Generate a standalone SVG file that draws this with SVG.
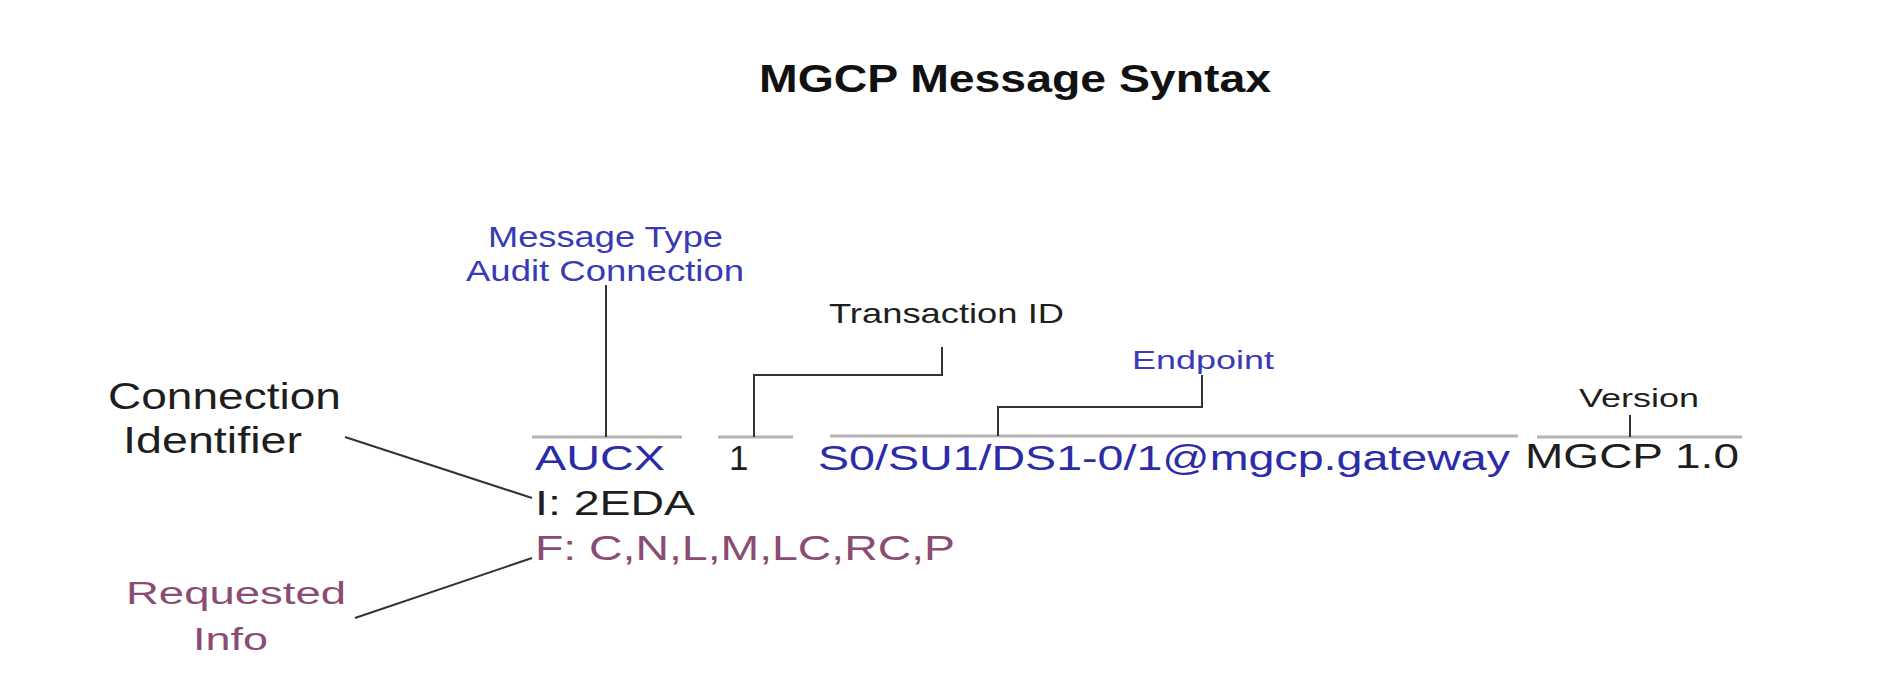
<svg xmlns="http://www.w3.org/2000/svg" width="1889" height="688" viewBox="0 0 1889 688">
<style>
text{font-family:"Liberation Sans",Arial,sans-serif}
.t{font-weight:bold;font-size:38px;fill:#111}
.blue{fill:#3a3ab4}
.dblue{fill:#2c2ca6}
.blk{fill:#1e1e1e}
.mauve{fill:#8a4c72}
.ul{stroke:#b4b4b4;stroke-width:3;fill:none}
.cn{stroke:#333;stroke-width:2;fill:none}
</style>
<rect width="1889" height="688" fill="#ffffff"/>
<g id="title"><text class="t" x="759" y="92" textLength="512" lengthAdjust="spacingAndGlyphs">MGCP Message Syntax</text></g>
<g id="message-type">
<text class="blue" x="488" y="247" font-size="29" textLength="235" lengthAdjust="spacingAndGlyphs">Message Type</text>
<text class="blue" x="466" y="281" font-size="29" textLength="278" lengthAdjust="spacingAndGlyphs">Audit Connection</text>
</g>
<g id="transaction-id"><text class="blk" x="829" y="323" font-size="28" textLength="235" lengthAdjust="spacingAndGlyphs">Transaction ID</text></g>
<g id="endpoint"><text class="blue" x="1132" y="369" font-size="26" textLength="142" lengthAdjust="spacingAndGlyphs">Endpoint</text></g>
<g id="version"><text class="blk" x="1579" y="407" font-size="26" textLength="120" lengthAdjust="spacingAndGlyphs">Version</text></g>
<g id="connection-identifier">
<text class="blk" x="108" y="409" font-size="36" textLength="233" lengthAdjust="spacingAndGlyphs">Connection</text>
<text class="blk" x="123" y="453" font-size="36" textLength="179" lengthAdjust="spacingAndGlyphs">Identifier</text>
</g>
<g id="requested-info">
<text class="mauve" x="126" y="604" font-size="31" textLength="220" lengthAdjust="spacingAndGlyphs">Requested</text>
<text class="mauve" x="193" y="650" font-size="31" textLength="75" lengthAdjust="spacingAndGlyphs">Info</text>
</g>
<g id="message">
<text class="dblue" x="535" y="470" font-size="35" textLength="130" lengthAdjust="spacingAndGlyphs">AUCX</text>
<text class="blk" x="729" y="470" font-size="35">1</text>
<text class="dblue" x="818" y="470" font-size="35" textLength="692" lengthAdjust="spacingAndGlyphs">S0/SU1/DS1-0/1@mgcp.gateway</text>
<text class="blk" x="1525" y="468" font-size="35" textLength="214" lengthAdjust="spacingAndGlyphs">MGCP 1.0</text>
<text class="blk" x="535" y="515" font-size="35" textLength="160" lengthAdjust="spacingAndGlyphs">I: 2EDA</text>
<text class="mauve" x="535" y="560" font-size="35" textLength="420" lengthAdjust="spacingAndGlyphs">F: C,N,L,M,LC,RC,P</text>
</g>
<g id="underlines">
<line class="ul" x1="532" y1="437" x2="682" y2="437"/>
<line class="ul" x1="718" y1="437" x2="793" y2="437"/>
<line class="ul" x1="830" y1="436" x2="1518" y2="436"/>
<line class="ul" x1="1537" y1="437" x2="1742" y2="437"/>
</g>
<g id="connectors">
<polyline class="cn" points="606,285 606,437"/>
<polyline class="cn" points="942,347 942,375 754,375 754,437"/>
<polyline class="cn" points="1202,375 1202,407 998,407 998,436"/>
<polyline class="cn" points="1630,415 1630,437"/>
<polyline class="cn" points="345,437 532,498"/>
<polyline class="cn" points="355,618 532,558"/>
</g>
</svg>
